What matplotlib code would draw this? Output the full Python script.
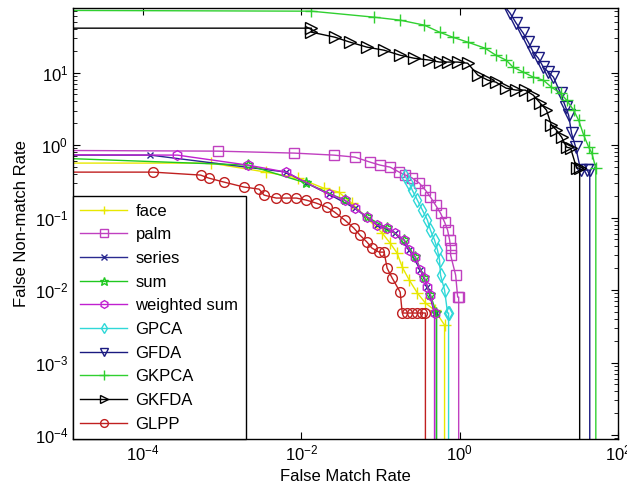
import numpy as np
import matplotlib
matplotlib.use('Agg')
import matplotlib.pyplot as plt
from matplotlib.ticker import FixedLocator, LogLocator, NullLocator, LogFormatterSciNotation

plt.rcParams['font.family'] = ['Liberation Sans', 'DejaVu Sans']

# DET curves: false match rate (x) vs false non-match rate (y)
# 1e-6 values stand for the parts that run off the axes
face_x = [1e-6, 7.14e-4, 3.58e-3, 9.16e-3, 0.0191, 0.0296, 0.0433, 0.105, 0.132, 0.162, 0.188, 0.231, 0.292, 0.369, 0.481, 0.644, 0.644]
face_y = [0.565, 0.565, 0.424, 0.351, 0.255, 0.225, 0.158, 0.0611, 0.0445, 0.0324, 0.0207, 0.0137, 0.0091, 0.00662, 0.0053, 0.00329, 1e-6]

palm_x = [1e-6, 8.77e-4, 8.15e-3, 0.0256, 0.0473, 0.0735, 0.0986, 0.132, 0.172, 0.205, 0.252, 0.309, 0.369, 0.427,
          0.495, 0.573, 0.644, 0.703, 0.746, 0.768, 0.768, 0.889, 0.943, 0.971, 0.971]
palm_y = [0.853, 0.826, 0.776, 0.728, 0.683, 0.583, 0.530, 0.497, 0.424, 0.386, 0.351, 0.299, 0.239, 0.192,
          0.149, 0.115, 0.0867, 0.0673, 0.0490, 0.0379, 0.0304, 0.0161, 0.0080, 0.0080, 1e-6]

series_x = [1e-6, 1.23e-4, 6.44e-3, 0.0116, 0.0221, 0.0473, 0.0902, 0.153, 0.231, 0.319, 0.391, 0.481, 0.509, 0.509]
series_y = [0.728, 0.728, 0.424, 0.299, 0.211, 0.135, 0.0788, 0.0611, 0.0356, 0.0189, 0.011, 0.00482, 0.00482, 1e-6]

sum_x = [1e-6, 2.11e-3, 0.0116, 0.0353, 0.0673, 0.121, 0.199, 0.275, 0.358, 0.427, 0.509, 0.509]
sum_y = [0.72, 0.530, 0.299, 0.174, 0.102, 0.0717, 0.0490, 0.0285, 0.0147, 0.00853, 0.00482, 1e-6]

wsum_x = [1e-6, 2.71e-4, 2.11e-3, 6.44e-3, 0.0221, 0.0353, 0.0473, 0.0673, 0.0902, 0.121, 0.153, 0.199, 0.231,
          0.275, 0.319, 0.358, 0.391, 0.427, 0.481, 0.481]
wsum_y = [0.74, 0.728, 0.530, 0.424, 0.211, 0.174, 0.135, 0.102, 0.0788, 0.0717, 0.0611, 0.0490, 0.0356,
          0.0285, 0.0189, 0.0147, 0.011, 0.00853, 0.00482, 1e-6]

gpca_x = [0.205, 0.231, 0.252, 0.292, 0.338, 0.391, 0.427, 0.481, 0.525, 0.556, 0.573, 0.644, 0.703, 0.724, 0.724]
gpca_y = [0.37, 0.299, 0.239, 0.174, 0.127, 0.0924, 0.0673, 0.0490, 0.0356, 0.0259, 0.0161, 0.01, 0.00482, 0.00482, 1e-6]

gfda_x = [3.2, 4.33, 5.17, 6.35, 7.35, 8.51, 9.86, 11.4, 13.2, 15.3, 18.8, 21.8, 23.8, 25.9, 29.2, 33.8, 40.3, 44.0, 44.0]
gfda_y = [100, 66.2, 48.2, 35.1, 26.4, 19.2, 15.8, 11.9, 10.2, 8.67, 5.21, 3.34, 2.59, 1.46, 0.938, 0.452, 0.452, 0.452, 1e-6]

gkpca_x = [1e-6, 0.0134, 0.0826, 0.177, 0.358, 0.556, 0.814, 1.26, 2.08, 2.87, 3.86, 4.73, 6.35, 8.51, 11.4,
           14.4, 18.8, 22.4, 27.5, 31.8, 36.9, 42.7, 46.7, 52.5, 52.5]
gkpca_y = [72.8, 70.5, 58.3, 53.0, 45.2, 36.2, 30.9, 26.4, 21.8, 17.4, 14.9, 11.9, 10.2, 8.67, 7.88,
           6.31, 5.21, 4.18, 3.04, 2.21, 1.37, 0.938, 0.776, 0.482, 1e-6]

gkfda_x = [1e-6, 0.0134, 0.0134, 0.0263, 0.0409, 0.0673, 0.111, 0.177, 0.267, 0.415, 0.556, 0.703, 0.943, 1.26, 1.70,
           2.27, 2.87, 3.86, 5.17, 6.73, 8.51, 10.4, 12.5, 14.4, 16.7, 19.4, 22.4, 25.2, 30.0, 32.8, 32.8]
gkfda_y = [41.1, 41.1, 36.2, 30.9, 26.4, 22.5, 20.4, 17.4, 15.8, 14.9, 14.0, 14.0, 14.0, 13.5, 9.24,
           7.88, 7.39, 6.11, 5.74, 5.74, 4.89, 3.80, 3.04, 1.89, 1.61, 1.29, 0.938, 0.909, 0.482, 0.482, 1e-6]

glpp_x = [1e-6, 1.34e-4, 5.32e-4, 6.73e-4, 1.05e-3, 1.88e-3, 2.92e-3, 3.38e-3, 4.81e-3, 6.44e-3, 8.63e-3, 0.0116,
          0.0155, 0.0208, 0.0263, 0.0353, 0.0460, 0.0548, 0.0673, 0.078, 0.0957, 0.111, 0.121, 0.140, 0.177,
          0.188, 0.218, 0.252, 0.292, 0.338, 0.369, 0.369]
glpp_y = [0.424, 0.424, 0.386, 0.351, 0.309, 0.264, 0.247, 0.204, 0.186, 0.186, 0.186, 0.174,
          0.158, 0.140, 0.119, 0.0924, 0.0717, 0.0574, 0.0460, 0.0379, 0.0334, 0.0334, 0.0201, 0.0147, 0.00938,
          0.00482, 0.00482, 0.00482, 0.00482, 0.00482, 0.00482, 1e-6]

curves = [
    ('face', face_x, face_y, '#e8e800', '+', 8),
    ('palm', palm_x, palm_y, '#c040c0', 's', 7),
    ('series', series_x, series_y, '#2a2a90', 'x', 5),
    ('sum', sum_x, sum_y, '#20c820', '*', 8),
    ('weighted sum', wsum_x, wsum_y, '#c020d0', 'h', 7),
    ('GPCA', gpca_x, gpca_y, '#30d8d8', 'd', 7),
    ('GFDA', gfda_x, gfda_y, '#1a1a80', 'v', 8),
    ('GKPCA', gkpca_x, gkpca_y, '#30d030', '+', 9),
    ('GKFDA', gkfda_x, gkfda_y, 'black', '>', 8),
    ('GLPP', glpp_x, glpp_y, '#c02020', 'o', 7),
]

fig = plt.figure(figsize=(6.27, 4.94), dpi=100)
ax = fig.add_axes([0.1164, 0.1113, 0.8692, 0.8725])

for name, xs, ys, col, mk, ms in curves:
    ax.loglog(xs, ys, color=col, marker=mk, markersize=ms, markerfacecolor='none',
              markeredgecolor=col, linewidth=1.0, label=name)

ax.set_xlim(1.3e-5, 100)
ax.set_ylim(8.8e-5, 78)

ax.xaxis.set_major_locator(FixedLocator([1e-4, 1e-2, 1e0, 1e2]))
ax.xaxis.set_minor_locator(NullLocator())
ax.xaxis.set_major_formatter(LogFormatterSciNotation())
ax.yaxis.set_major_locator(LogLocator(base=10, numticks=20))
ax.yaxis.set_minor_locator(LogLocator(base=10, subs=np.arange(2, 10), numticks=20))
ax.tick_params(which='both', direction='in', top=True, right=True, labelsize=12)
ax.tick_params(which='major', length=5)
ax.tick_params(which='minor', length=3)
for sp in ax.spines.values():
    sp.set_linewidth(1.0)

ax.set_xlabel('False Match Rate', fontsize=12)
ax.set_ylabel('False Non-match Rate', fontsize=12)

leg = ax.legend(loc='lower left', borderaxespad=0, fancybox=False, framealpha=1,
                edgecolor='black', fontsize=12, handlelength=2.8, labelspacing=0.52,
                markerscale=0.8, borderpad=0.45, handletextpad=0.5)
leg.get_frame().set_linewidth(1.0)

fig.savefig('out.png', dpi=100)
